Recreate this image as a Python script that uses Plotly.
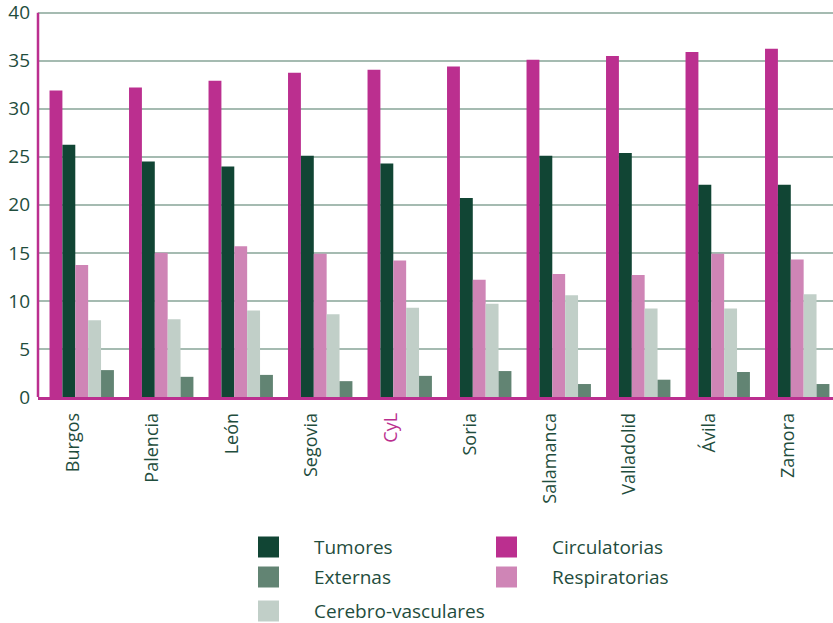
import plotly.graph_objects as go

provincias = ["Burgos", "Palencia", "León", "Segovia", "CyL", "Soria",
              "Salamanca", "Valladolid", "Ávila", "Zamora"]
circulatorias = [31.9, 32.2, 32.9, 33.75, 34.05, 34.4, 35.1, 35.5, 35.9, 36.25]
tumores = [26.25, 24.5, 24.0, 25.1, 24.3, 20.7, 25.1, 25.4, 22.1, 22.1]
respiratorias = [13.75, 15.0, 15.7, 14.9, 14.2, 12.2, 12.8, 12.7, 14.9, 14.3]
cerebrovasculares = [8.0, 8.1, 9.0, 8.6, 9.3, 9.7, 10.6, 9.2, 9.2, 10.7]
externas = [2.8, 2.1, 2.3, 1.65, 2.2, 2.7, 1.35, 1.8, 2.6, 1.35]
y_ticks = [0, 5, 10, 15, 20, 25, 30, 35, 40]

TXT = "#1f4d3d"
MAG = "#bb2f8f"
FONT = "Open Sans"

series = [
    ("Circulatorias", circulatorias, MAG),
    ("Tumores", tumores, "#114534"),
    ("Respiratorias", respiratorias, "#cf85b6"),
    ("Cerebro-vasculares", cerebrovasculares, "#c1cfc8"),
    ("Externas", externas, "#628473"),
]
colors = {name: col for name, _, col in series}

xs = list(range(len(provincias)))
fig = go.Figure()
for name, vals, col in series:
    fig.add_trace(go.Bar(x=xs, y=vals, name=name, marker_color=col,
                         marker_line_width=0, showlegend=False))

ticktext = [f"<span style='color:{MAG}'>{p}</span>" if p == "CyL" else p
            for p in provincias]

W, H = 833, 623
L, R, T, B = 38, 0, 4, 226
pw, ph = W - L - R, H - T - B

YMAX = 40.9

# manual legend (squares + labels), positioned in pixels then converted to paper coords
def px(x):
    return (x - L) / pw

def py(y):
    return (H - B - y) / ph

legend_items = [
    ("Tumores", 258, 547),
    ("Externas", 258, 577),
    ("Cerebro-vasculares", 258, 611),
    ("Circulatorias", 496, 547),
    ("Respiratorias", 496, 577),
]
shapes = [
    # left axis line, from 0 to the top tick only
    dict(type="line", xref="paper", yref="y", x0=0, x1=0, y0=0, y1=y_ticks[-1],
         line=dict(color=MAG, width=2.5), layer="above"),
]
annotations = []
for name, x0, yc in legend_items:
    shapes.append(dict(type="rect", xref="paper", yref="paper",
                       x0=px(x0), x1=px(x0 + 21), y0=py(yc + 10.5), y1=py(yc - 10.5),
                       fillcolor=colors[name], line_width=0))
    annotations.append(dict(xref="paper", yref="paper", x=px(x0 + 54), y=py(yc),
                            text=name, showarrow=False, xanchor="left", yanchor="middle",
                            font=dict(size=19, color=TXT, family=FONT)))

fig.update_layout(
    width=W, height=H,
    margin=dict(l=L, r=R, t=T, b=B, autoexpand=False),
    paper_bgcolor="white", plot_bgcolor="white",
    barmode="group", bargap=0.19, bargroupgap=0,
    font=dict(family=FONT, color=TXT),
    shapes=shapes, annotations=annotations,
    xaxis=dict(tickmode="array", tickvals=xs, ticktext=ticktext,
               range=[-0.55, 9.45], tickangle=-90, ticks="",
               tickfont=dict(size=18, color=TXT, family=FONT),
               ticklabelshift=-9, ticklabelstandoff=6,
               showline=True, linecolor=MAG, linewidth=2.5,
               showgrid=False, zeroline=False),
    yaxis=dict(range=[0, YMAX], tickmode="array", tickvals=y_ticks,
               ticktext=[str(v) for v in y_ticks],
               tickfont=dict(size=19, color=TXT, family=FONT),
               ticks="", ticklabelstandoff=7, ticklabeloverflow="allow",
               showgrid=True, gridcolor="#a5bbb1", gridwidth=2,
               showline=False, zeroline=False),
)

fig.write_html("out.html", config={"displayModeBar": False},
               post_script="document.body.style.margin='0';document.body.style.padding='0';")
